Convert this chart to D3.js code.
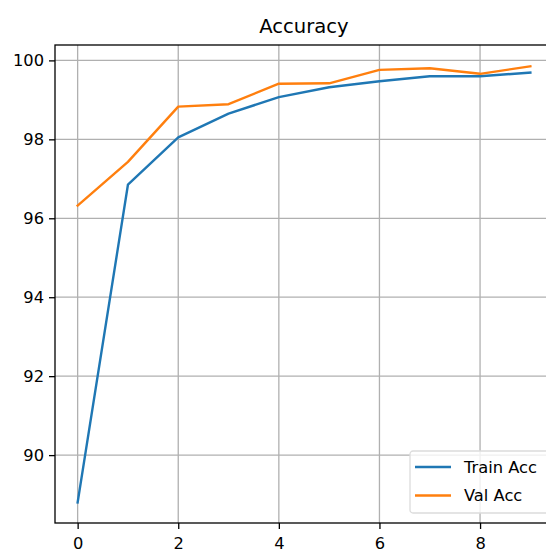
<!DOCTYPE html>
<html>
<head>
<meta charset="utf-8">
<script src="https://cdn.jsdelivr.net/npm/d3@7"></script>
<style>
  html, body { margin: 0; padding: 0; background: #fff; }
  svg { display: block; font-family: "DejaVu Sans", sans-serif; }
</style>
</head>
<body>
<div id="chart"></div>
<script>
// data
const epochs = [0, 1, 2, 3, 4, 5, 6, 7, 8, 9];
const trainAcc = [88.8, 96.85, 98.05, 98.65, 99.07, 99.32, 99.47, 99.6, 99.6, 99.69];
const valAcc = [96.32, 97.43, 98.83, 98.89, 99.41, 99.42, 99.76, 99.8, 99.66, 99.85];
const xTicks = [0, 2, 4, 6, 8];
const yTicks = [90, 92, 94, 96, 98, 100];
const seriesNames = ['Train Acc', 'Val Acc'];
const seriesColors = ['#1f77b4', '#ff7f0e'];

const W = 546, H = 550;
const plot = { left: 55, right: 553, top: 45, bottom: 523 };

const svg = d3.select('#chart').append('svg')
    .attr('width', W)
    .attr('height', H);

const xScale = d3.scaleLinear().domain([-0.45, 9.45]).range([plot.left, plot.right]);
const yScale = d3.scaleLinear().domain([88.28, 100.39]).range([plot.bottom, plot.top]);

// grid
const grid = svg.append('g').attr('class', 'grid');
grid.selectAll('.gx').data(xTicks).enter().append('line')
    .attr('x1', d => xScale(d)).attr('x2', d => xScale(d))
    .attr('y1', plot.top).attr('y2', plot.bottom)
    .attr('stroke', '#b0b0b0').attr('stroke-width', 1.3);
grid.selectAll('.gy').data(yTicks).enter().append('line')
    .attr('x1', plot.left).attr('x2', plot.right)
    .attr('y1', d => yScale(d)).attr('y2', d => yScale(d))
    .attr('stroke', '#b0b0b0').attr('stroke-width', 1.3);

// lines
svg.append('clipPath').attr('id', 'clip').append('rect')
    .attr('x', plot.left).attr('y', plot.top)
    .attr('width', plot.right - plot.left).attr('height', plot.bottom - plot.top);

const line = d3.line()
    .x((d, i) => xScale(epochs[i]))
    .y(d => yScale(d));

[trainAcc, valAcc].forEach((vals, k) => {
    svg.append('path')
        .datum(vals)
        .attr('clip-path', 'url(#clip)')
        .attr('fill', 'none')
        .attr('stroke', seriesColors[k])
        .attr('stroke-width', 2.4)
        .attr('stroke-linejoin', 'round')
        .attr('stroke-linecap', 'square')
        .attr('d', line);
});

// axes
const xAxis = svg.append('g')
    .attr('transform', `translate(0,${plot.bottom})`)
    .call(d3.axisBottom(xScale).tickValues(xTicks).tickFormat(d3.format('d')).tickSize(6).tickPadding(8));
const yAxis = svg.append('g')
    .attr('transform', `translate(${plot.left},0)`)
    .call(d3.axisLeft(yScale).tickValues(yTicks).tickFormat(d3.format('d')).tickSize(6).tickPadding(5));

[xAxis, yAxis].forEach(ax => {
    ax.select('.domain').remove();
    ax.selectAll('line').attr('stroke', '#000').attr('stroke-width', 1.3);
    ax.selectAll('text')
        .style('font-size', '16.3px')
        .style('font-family', '"DejaVu Sans", sans-serif')
        .attr('fill', '#000');
});

// frame
svg.append('rect')
    .attr('x', plot.left).attr('y', plot.top)
    .attr('width', plot.right - plot.left).attr('height', plot.bottom - plot.top)
    .attr('fill', 'none').attr('stroke', '#000').attr('stroke-width', 1.3);

// title
svg.append('text')
    .attr('x', (plot.left + plot.right) / 2)
    .attr('y', 33)
    .attr('text-anchor', 'middle')
    .style('font-size', '19.6px')
    .text('Accuracy');

// legend
const legend = svg.append('g').attr('transform', 'translate(410,451)');
legend.append('rect')
    .attr('width', 140).attr('height', 62)
    .attr('rx', 3)
    .attr('fill', 'rgba(255,255,255,0.8)')
    .attr('stroke', '#dcdcdc').attr('stroke-width', 1.3);

const items = legend.selectAll('.item').data(seriesNames).enter().append('g')
    .attr('transform', (d, i) => `translate(0,${16 + i * 28.5})`);
items.append('line')
    .attr('x1', 5).attr('x2', 41)
    .attr('stroke', (d, i) => seriesColors[i])
    .attr('stroke-width', 2.4);
items.append('text')
    .attr('x', 54).attr('y', 0).attr('dy', '0.35em')
    .style('font-size', '16.3px')
    .text(d => d);
</script>
</body>
</html>
